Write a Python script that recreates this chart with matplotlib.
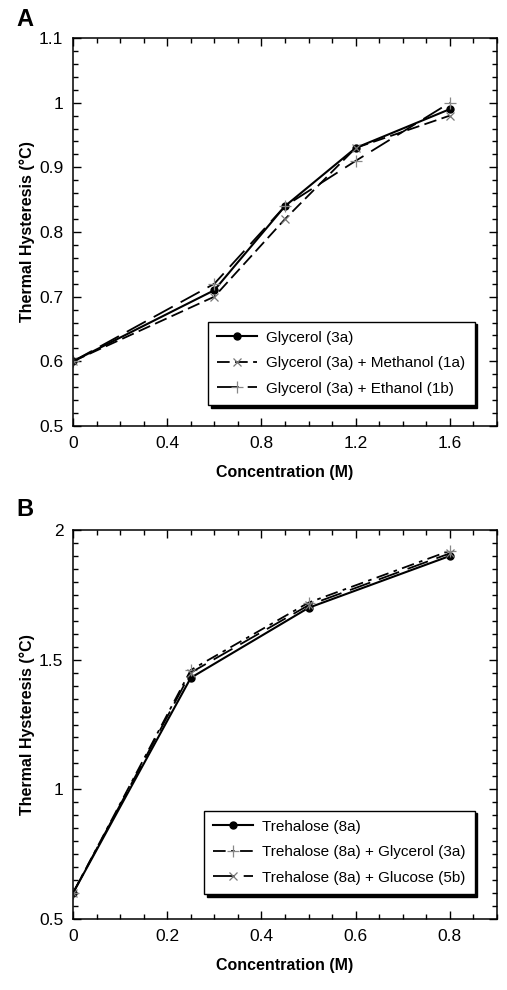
import matplotlib
matplotlib.use("Agg")
import matplotlib.pyplot as plt
from matplotlib.ticker import MultipleLocator, FuncFormatter

plt.rcParams['font.family'] = ['Liberation Sans', 'DejaVu Sans']

# Panel A data
conc_a = [0, 0.6, 0.9, 1.2, 1.6]
glycerol = [0.60, 0.71, 0.84, 0.93, 0.99]
gly_methanol = [0.60, 0.70, 0.82, 0.93, 0.98]
gly_ethanol = [0.60, 0.72, 0.84, 0.91, 1.00]
labels_a = ["Glycerol (3a)", "Glycerol (3a) + Methanol (1a)", "Glycerol (3a) + Ethanol (1b)"]

# Panel B data
conc_b = [0, 0.25, 0.5, 0.8]
trehalose = [0.60, 1.43, 1.70, 1.90]
tre_glycerol = [0.60, 1.46, 1.72, 1.92]
tre_glucose = [0.60, 1.45, 1.71, 1.91]
labels_b = ["Trehalose (8a)", "Trehalose (8a) + Glycerol (3a)", "Trehalose (8a) + Glucose (5b)"]

fig = plt.figure(figsize=(5.07, 9.9), dpi=100)
W, H = 507, 990
def rect(l, t, r, b):
    return [l / W, 1 - b / H, (r - l) / W, (b - t) / H]

axA = fig.add_axes(rect(73, 38, 497, 426))
axB = fig.add_axes(rect(73, 530, 497, 919))

fmt = FuncFormatter(lambda v, p: ('%g' % round(v, 3)))

def style(ax, xmaj, xmin, ymaj, ymin):
    ax.xaxis.set_major_locator(MultipleLocator(xmaj))
    ax.xaxis.set_minor_locator(MultipleLocator(xmin))
    ax.yaxis.set_major_locator(MultipleLocator(ymaj))
    ax.yaxis.set_minor_locator(MultipleLocator(ymin))
    ax.xaxis.set_major_formatter(fmt)
    ax.yaxis.set_major_formatter(fmt)
    ax.tick_params(which='both', direction='in', top=True, right=True, labelsize=12.5, width=1)
    ax.tick_params(which='major', length=6, pad=7)
    ax.tick_params(which='minor', length=3.5)
    for s in ax.spines.values():
        s.set_linewidth(1.1)
    ax.set_xlabel("Concentration (M)", fontsize=11.5, fontweight='bold', labelpad=10)
    ax.set_ylabel("Thermal Hysteresis (°C)", fontsize=11.5, fontweight='bold', labelpad=3)

# Panel A
axA.plot(conc_a, glycerol, '-', color='black', lw=1.5, marker='o', ms=5, label=labels_a[0])
axA.plot(conc_a, gly_methanol, color='black', lw=1.3, dashes=(7, 3), marker='x', ms=6,
         mec='#777777', mew=0.9, label=labels_a[1])
axA.plot(conc_a, gly_ethanol, color='black', lw=1.3, dashes=(12, 5), marker='+', ms=8,
         mec='#888888', mew=0.9, label=labels_a[2])
axA.set_xlim(0, 1.8)
axA.set_ylim(0.5, 1.1)
style(axA, 0.4, 0.1, 0.1, 0.02)
legA = axA.legend(loc='lower right', bbox_to_anchor=(0.965, 0.035), fontsize=11, frameon=True,
                  fancybox=False, shadow={'color': 'black', 'alpha': 1}, edgecolor='black',
                  framealpha=1, handlelength=2.6, borderpad=0.6, labelspacing=0.75,
                  handletextpad=0.6)
legA.get_frame().set_linewidth(1.0)

# Panel B
axB.plot(conc_b, trehalose, '-', color='black', lw=1.5, marker='o', ms=5, label=labels_b[0])
axB.plot(conc_b, tre_glycerol, color='black', lw=1.3, dashes=(7, 3, 2, 3), marker='+', ms=8,
         mec='#888888', mew=0.9, label=labels_b[1])
axB.plot(conc_b, tre_glucose, color='black', lw=1.3, dashes=(12, 5), marker='x', ms=6,
         mec='#777777', mew=0.9, label=labels_b[2])
axB.set_xlim(0, 0.9)
axB.set_ylim(0.5, 2.0)
style(axB, 0.2, 0.05, 0.5, 0.05)
legB = axB.legend(loc='lower right', bbox_to_anchor=(0.965, 0.045), fontsize=11, frameon=True,
                  fancybox=False, shadow={'color': 'black', 'alpha': 1}, edgecolor='black',
                  framealpha=1, handlelength=2.6, borderpad=0.6, labelspacing=0.75,
                  handletextpad=0.6)
legB.get_frame().set_linewidth(1.0)

fig.text(16 / W, 1 - 20 / H, "A", fontsize=17, fontweight='bold', va='center', ha='left')
fig.text(16 / W, 1 - 510 / H, "B", fontsize=17, fontweight='bold', va='center', ha='left')

fig.savefig("out.png", dpi=100, facecolor='white')
